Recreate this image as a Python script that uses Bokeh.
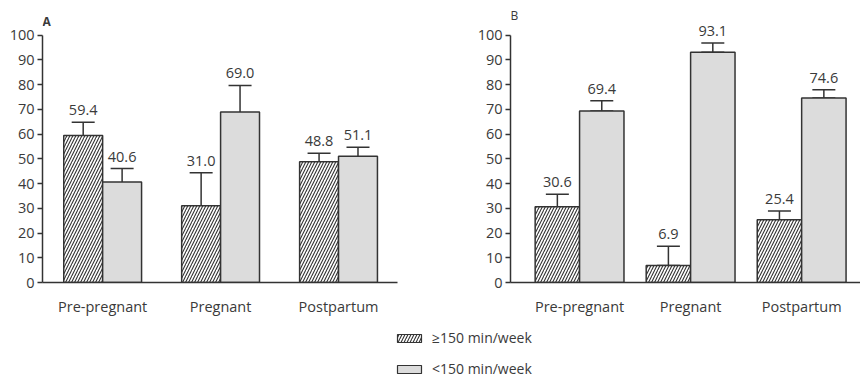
import numpy as np
from bokeh.plotting import figure
from bokeh.layouts import column, row
from bokeh.models import (ColumnDataSource, Whisker, TeeHead, LabelSet, Label,
                          FixedTicker, Legend, LegendItem)
from bokeh.core.properties import value
from bokeh.embed import file_html
from bokeh.resources import INLINE

# ---------------- data ----------------
categories = ["Pre-pregnant", "Pregnant", "Postpartum"]
series_names = ["\u2265150 min/week", "<150 min/week"]

a_ge150 = [59.4, 31.0, 48.8]
a_ge150_lo = [53.8, 20.3, 45.9]
a_ge150_hi = [64.8, 44.4, 52.3]
a_lt150 = [40.6, 69.0, 51.1]
a_lt150_lo = [35.7, 55.7, 47.9]
a_lt150_hi = [46.1, 79.7, 54.7]

b_ge150 = [30.6, 6.9, 25.4]
b_ge150_lo = [30.6, 6.9, 22.8]
b_ge150_hi = [35.7, 14.7, 28.9]
b_lt150 = [69.4, 93.1, 74.6]
b_lt150_lo = [69.4, 93.1, 74.6]
b_lt150_hi = [73.5, 96.9, 77.9]

y_ticks = list(range(0, 101, 10))

# ---------------- style ----------------
FONT = "Open Sans"
INK = "#333333"
TXT = "#3a3a3a"
GRAY = "#dcdcdc"
HATCH = dict(fill_color="white", hatch_pattern="/", hatch_color=INK,
             hatch_scale=6, hatch_weight=1.1)
PLAIN = dict(fill_color=GRAY)


def style_axes(p):
    p.xgrid.visible = False
    p.ygrid.visible = False
    p.outline_line_color = None
    p.background_fill_color = "white"
    p.border_fill_color = "white"
    for ax in (p.xaxis[0], p.yaxis[0]):
        ax.axis_line_color = INK
        ax.axis_line_width = 1.5
        ax.major_label_text_font = FONT
        ax.major_label_text_color = TXT
        ax.major_label_text_font_size = "14.5px"
        ax.minor_tick_line_color = None
    p.yaxis[0].ticker = FixedTicker(ticks=y_ticks)
    p.yaxis[0].bounds = (0, 100)
    p.yaxis[0].major_tick_line_color = INK
    p.yaxis[0].major_tick_line_width = 1.5
    p.yaxis[0].major_tick_out = 5
    p.yaxis[0].major_tick_in = 0
    p.yaxis[0].major_label_standoff = 3
    p.xaxis[0].ticker = FixedTicker(ticks=[1, 2, 3])
    p.xaxis[0].major_label_overrides = {i + 1: c for i, c in enumerate(categories)}
    p.xaxis[0].major_tick_line_color = None
    p.xaxis[0].major_tick_out = 0
    p.xaxis[0].major_tick_in = 0
    p.xaxis[0].major_label_standoff = 14


def panel(width, xr, border_left, border_right, offset, bw, series, letter, letter_bold, letter_dy):
    p = figure(width=width, height=318, x_range=xr, y_range=(0, 110),
               output_backend="svg", toolbar_location=None,
               min_border_left=border_left, min_border_right=border_right,
               min_border_top=10, min_border_bottom=33)
    style_axes(p)
    base = np.arange(1, len(categories) + 1)
    for k, (vals, lo, hi) in enumerate(series):
        xs = base + (offset if k == 1 else -offset)
        src = ColumnDataSource(dict(x=xs, top=vals, lo=lo, hi=hi,
                                    lab=["%.1f" % v for v in vals]))
        sty = HATCH if k == 0 else PLAIN
        p.vbar(x="x", top="top", width=bw, source=src, line_color=INK,
               line_width=1.5, **sty)
        p.add_layout(Whisker(base="x", upper="hi", lower="lo", source=src,
                             line_color=INK, line_width=1.5,
                             upper_head=TeeHead(size=23, line_color=INK, line_width=1.5),
                             lower_head=TeeHead(size=23, line_color=INK, line_width=1.5)))
        p.add_layout(LabelSet(x="x", y="hi", text="lab", source=src,
                              text_align="center", text_baseline="bottom",
                              y_offset=7, text_font=value(FONT),
                              text_font_size=value("14.5px"),
                              text_color=TXT))
    p.add_layout(Label(x=xr[0], y=100, text=letter, text_align="left",
                       text_baseline="middle", y_offset=letter_dy, x_offset=0,
                       text_font=FONT, text_font_size="12px", text_color=TXT,
                       text_font_style="bold" if letter_bold else "normal"))
    return p


pA = panel(430, (0.49, 3.5), 42, 33, 0.165, 0.33,
           [(a_ge150, a_ge150_lo, a_ge150_hi), (a_lt150, a_lt150_lo, a_lt150_hi)],
           "A", True, 14)
pB = panel(430, (0.378, 3.53), 80, 0, 0.2, 0.4,
           [(b_ge150, b_ge150_lo, b_ge150_hi), (b_lt150, b_lt150_lo, b_lt150_hi)],
           "B", False, 20)

# legend panel (swatch renderers sit outside the visible range)
pL = figure(width=860, height=60, x_range=(0, 1), y_range=(0, 1),
            output_backend="svg", toolbar_location=None, min_border=0)
pL.axis.visible = False
pL.xgrid.visible = False
pL.ygrid.visible = False
pL.outline_line_color = None
r1 = pL.vbar(x=[-5], top=[-5], width=0.1, line_color=INK, line_width=1.2, **HATCH)
r2 = pL.vbar(x=[-5], top=[-5], width=0.1, line_color=INK, line_width=1.2, **PLAIN)
leg = Legend(items=[LegendItem(label=series_names[0], renderers=[r1]),
                    LegendItem(label=series_names[1], renderers=[r2])],
             location=(394, 0), orientation="vertical",
             glyph_width=30, glyph_height=10, label_height=18,
             label_standoff=8, spacing=12, padding=0, margin=0,
             border_line_color=None, background_fill_alpha=0,
             label_text_font=FONT, label_text_font_size="14px",
             label_text_color=TXT)
pL.add_layout(leg)

layout = column(row(pA, pB), pL)
open("out.html", "w").write(file_html(layout, INLINE))
